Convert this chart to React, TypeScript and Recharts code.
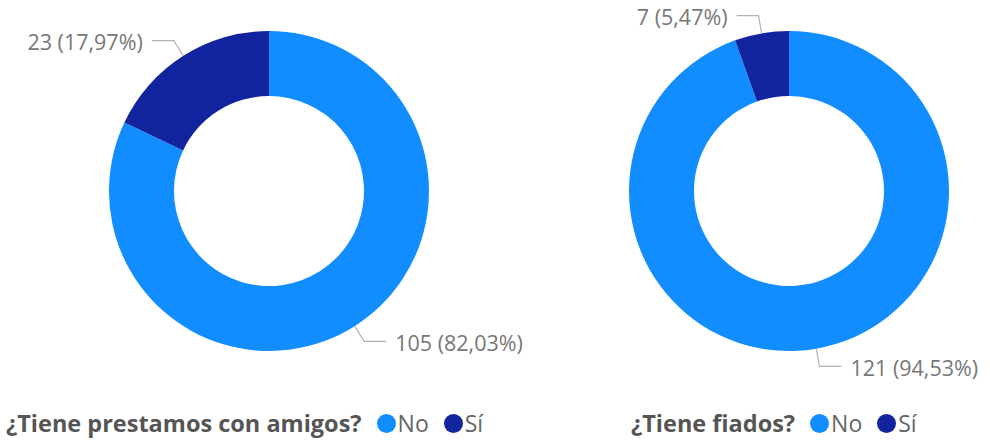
import { PieChart, Pie, Cell, Legend } from 'recharts';

const categories = ['No', 'Sí'];
const prestamosValues = [105, 23];
const fiadosValues = [121, 7];
const titles = ['¿Tiene prestamos con amigos?', '¿Tiene fiados?'];
const colors = ['#118DFF', '#12239E'];

const FONT = '"Open Sans", "Noto Sans", sans-serif';
const RADIAN = Math.PI / 180;

const toRows = (values: number[]) => {
  const total = values.reduce((a, b) => a + b, 0);
  return categories.map((name, i) => ({
    name,
    value: values[i],
    pct: ((values[i] / total) * 100).toFixed(2).replace('.', ','),
  }));
};

const renderLabel = (props: any) => {
  const { cx, cy, midAngle, outerRadius, value, payload } = props;
  const cos = Math.cos(-midAngle * RADIAN);
  const sin = Math.sin(-midAngle * RADIAN);
  const sx = cx + outerRadius * cos;
  const sy = cy + outerRadius * sin;
  const mx = cx + (outerRadius + 18) * cos;
  const my = cy + (outerRadius + 18) * sin;
  const dir = cos >= 0 ? 1 : -1;
  const ex = mx + dir * 22;
  return (
    <g>
      <path d={`M${sx},${sy}L${mx},${my}L${ex},${my}`} stroke="#b3b3b3" strokeWidth={1.2} fill="none" />
      <text
        x={ex + dir * 9}
        y={my + 1}
        textAnchor={dir > 0 ? 'start' : 'end'}
        dominantBaseline="central"
        fill="#777"
        fontSize={21.5}
        fontFamily={FONT}
      >
        {`${value} (${payload.pct}%)`}
      </text>
    </g>
  );
};

const LegendContent = ({ title, left }: { title: string; left: number }) => (
  <div
    style={{
      display: 'flex',
      alignItems: 'center',
      fontFamily: FONT,
      paddingLeft: left,
      whiteSpace: 'nowrap',
    }}
  >
    <span style={{ fontWeight: 700, fontSize: 23.5, color: '#555', marginRight: 15 }}>{title}</span>
    {categories.map((c, i) => (
      <span key={c} style={{ display: 'flex', alignItems: 'center', marginRight: 15 }}>
        <span
          style={{
            width: 19,
            height: 19,
            borderRadius: '50%',
            background: colors[i],
            display: 'inline-block',
            marginRight: 2,
          }}
        />
        <span style={{ fontSize: 23, color: '#666' }}>{c}</span>
      </span>
    ))}
  </div>
);

const Donut = ({
  values,
  title,
  width,
  cx,
  legendLeft,
}: {
  values: number[];
  title: string;
  width: number;
  cx: number;
  legendLeft: number;
}) => (
  <PieChart width={width} height={442} margin={{ top: 0, right: 0, bottom: 0, left: 0 }}>
    <Pie
      data={toRows(values)}
      dataKey="value"
      nameKey="name"
      cx={cx}
      cy={191}
      innerRadius={95}
      outerRadius={160}
      startAngle={90}
      endAngle={-270}
      stroke="none"
      label={renderLabel}
      labelLine={false}
      isAnimationActive={false}
    >
      {categories.map((c, i) => (
        <Cell key={c} fill={colors[i]} />
      ))}
    </Pie>
    <Legend
      verticalAlign="bottom"
      align="left"
      wrapperStyle={{ bottom: 3, left: 0, width }}
      content={() => <LegendContent title={title} left={legendLeft} />}
    />
  </PieChart>
);

export default function App() {
  return (
    <div style={{ position: 'fixed', top: 0, left: 0, width: 990, height: 442, background: '#fff' }}>
      <div style={{ position: 'absolute', left: 0, top: 0 }}>
        <Donut values={prestamosValues} title={titles[0]} width={600} cx={269} legendLeft={6} />
      </div>
      <div style={{ position: 'absolute', left: 600, top: 0 }}>
        <Donut values={fiadosValues} title={titles[1]} width={390} cx={189} legendLeft={31} />
      </div>
    </div>
  );
}
